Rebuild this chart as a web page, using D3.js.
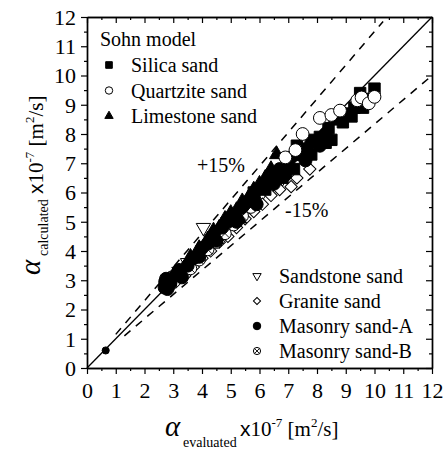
<!DOCTYPE html>
<html><head><meta charset="utf-8">
<script src="https://cdn.jsdelivr.net/npm/d3@7"></script>
<style>
body{margin:0;background:#fff}
</style></head>
<body><svg id="c" width="444" height="452"></svg>
<script>
const xTicks=[0,1,2,3,4,5,6,7,8,9,10,11,12];
const yTicks=[0,1,2,3,4,5,6,7,8,9,10,11,12];
const silica=[[5.8,6.0],[6.2,6.1],[6.5,6.6],[6.8,6.5],[7.0,7.0],[7.2,6.8],[7.4,7.3],[7.6,7.5],[7.8,7.3],[7.9,7.8],[8.1,7.9],[8.3,7.7],[8.5,7.8],[8.4,8.2],[8.7,8.5],[8.9,8.4],[9.0,8.7],[9.2,8.6],[9.3,8.9],[9.5,9.4],[9.6,8.9],[9.8,9.2],[10.0,9.55],[7.3,7.6]];
const quartzite=[[6.9,7.2],[7.25,7.45],[7.5,8.0],[8.1,8.55],[8.5,8.65],[8.8,8.8],[9.4,9.15],[9.55,9.25],[9.8,9.05],[10.0,9.27]];
const limestone=[[3.6,3.8],[3.9,4.1],[4.2,4.4],[4.4,4.7],[4.6,4.8],[4.8,5.1],[5.0,5.3],[5.2,5.4],[5.4,5.7],[5.6,5.8],[5.8,6.1],[6.0,6.3],[6.2,6.5],[6.4,6.8],[6.6,7.3],[5.3,5.1],[4.5,4.4]];
const sandstone=[[3.2,3.3],[3.5,3.6],[3.8,3.7],[4.05,4.8],[4.3,4.4],[4.5,4.6],[4.7,4.6],[4.9,5.0],[5.1,5.2],[5.3,5.2],[5.5,5.4],[5.8,5.7],[6.1,6.0],[6.4,6.2],[6.8,6.5]];
const granite=[[3.1,2.95],[3.4,3.15],[3.7,3.45],[4.0,3.75],[4.3,4.0],[4.6,4.3],[4.9,4.5],[5.2,4.8],[5.5,5.1],[5.8,5.35],[6.1,5.6],[6.4,5.9],[6.7,6.1],[7.1,6.2],[7.3,6.5],[7.75,6.8]];
const masonryA=[[0.65,0.6],[2.7,2.75],[2.72,2.95],[2.75,3.05],[2.8,2.7],[2.9,2.9],[3.1,3.2],[3.2,3.35],[3.3,3.1],[3.5,3.5],[3.7,3.75],[3.9,3.8],[4.0,4.1],[4.2,4.25],[4.4,4.5],[4.5,4.35],[4.7,4.8],[4.9,5.0],[5.1,5.2],[5.2,5.0],[5.4,5.5],[5.6,5.7],[5.8,5.9],[5.9,5.6],[6.1,6.2],[6.3,6.4],[6.5,6.3],[6.7,6.8],[6.9,6.6],[7.1,7.2],[7.4,7.3],[7.6,7.1],[7.8,7.7],[8.1,7.6],[8.3,8.0]];
const masonryB=[[2.9,2.85],[3.3,3.2],[3.6,3.4],[3.9,3.7],[4.2,4.05],[4.5,4.3],[4.8,4.6],[5.1,4.9],[5.4,5.2],[5.7,5.5]];
const legendTop=["Silica sand","Quartzite sand","Limestone sand"];
const legendBottom=["Sandstone sand","Granite sand","Masonry sand-A","Masonry sand-B"];

const SERIF="'Liberation Serif','Times New Roman',Tinos,'DejaVu Serif',serif";
const svg=d3.select("#c");
const L=87,R=432,T=17,B=368;
const x=d3.scaleLinear().domain([0,12]).range([L,R]);
const y=d3.scaleLinear().domain([0,12]).range([B,T]);
const minor=d3.range(0.5,12,1);

const line=d3.line().x(d=>x(d[0])).y(d=>y(d[1]));
svg.append("path").attr("d",line([[0,0],[12,12]])).attr("stroke","#000").attr("stroke-width",1.3).attr("fill","none");
svg.append("path").attr("d",line([[1.0,1.15],[10.3,11.85]])).attr("stroke","#000").attr("stroke-width",1.5).attr("fill","none").attr("stroke-dasharray","8,7");
svg.append("path").attr("d",line([[1.3,1.1],[12,10.0]])).attr("stroke","#000").attr("stroke-width",1.5).attr("fill","none").attr("stroke-dasharray","8,7");

function marker(g,type,cx,cy,s){
  const sc=s||1;
  if(type==="square"){g.append("path").attr("d",d3.symbol(d3.symbolSquare,130*sc*sc)()).attr("transform",`translate(${cx},${cy})`).attr("fill","#000").attr("stroke","#000");}
  else if(type==="circle"){g.append("circle").attr("cx",cx).attr("cy",cy).attr("r",6.4*sc).attr("fill","#fff").attr("stroke","#000").attr("stroke-width",1);}
  else if(type==="fcircle"){g.append("circle").attr("cx",cx).attr("cy",cy).attr("r",6.5*sc).attr("fill","#000").attr("stroke","#000");}
  else if(type==="triangle"){g.append("path").attr("d",d3.symbol(d3.symbolTriangle,90*sc*sc)()).attr("transform",`translate(${cx},${cy})`).attr("fill","#000").attr("stroke","#000");}
  else if(type==="dtriangle"){g.append("path").attr("d",d3.symbol(d3.symbolTriangle,90*sc*sc)()).attr("transform",`translate(${cx},${cy}) rotate(180)`).attr("fill","#fff").attr("stroke","#000");}
  else if(type==="diamond"){g.append("path").attr("d",d3.symbol(d3.symbolSquare,76*sc*sc)()).attr("transform",`translate(${cx},${cy}) rotate(45)`).attr("fill","#fff").attr("stroke","#000");}
  else if(type==="xcircle"){const r=6.2*sc;g.append("circle").attr("cx",cx).attr("cy",cy).attr("r",r).attr("fill","#fff").attr("stroke","#000");
    const k=r*0.7;g.append("path").attr("d",`M${cx-k},${cy-k}L${cx+k},${cy+k}M${cx-k},${cy+k}L${cx+k},${cy-k}`).attr("stroke","#000").attr("stroke-width",0.9);}
}
const series=[[sandstone,"dtriangle"],[granite,"diamond"],[masonryB,"xcircle"],[masonryA,"fcircle"],[limestone,"triangle"],[silica,"square"],[quartzite,"circle"]];
const gm=svg.append("g");
series.forEach(([data,t])=>data.forEach(d=>marker(gm,t,x(d[0]),y(d[1]),(d[0]<1?0.55:1))));

svg.append("g").attr("transform",`translate(0,${B})`).call(d3.axisBottom(x).tickValues(xTicks).tickSize(6).tickSizeOuter(0).tickPadding(8));
svg.append("g").attr("transform",`translate(0,${B})`).call(d3.axisBottom(x).tickValues(minor).tickSize(3).tickSizeOuter(0).tickFormat(""));
const gL=svg.append("g").attr("transform",`translate(${L},0)`).call(d3.axisLeft(y).tickValues(yTicks).tickSize(6).tickSizeOuter(0).tickPadding(5));
svg.append("g").attr("transform",`translate(${L},0)`).call(d3.axisLeft(y).tickValues(minor).tickSize(3).tickSizeOuter(0).tickFormat(""));
svg.append("g").attr("transform",`translate(0,${T})`).call(d3.axisTop(x).tickValues(xTicks).tickSize(-6).tickSizeOuter(0).tickFormat(""));
svg.append("g").attr("transform",`translate(0,${T})`).call(d3.axisTop(x).tickValues(minor).tickSize(-3).tickSizeOuter(0).tickFormat(""));
svg.append("g").attr("transform",`translate(${R},0)`).call(d3.axisRight(y).tickValues(yTicks).tickSize(-6).tickSizeOuter(0).tickFormat(""));
svg.append("g").attr("transform",`translate(${R},0)`).call(d3.axisRight(y).tickValues(minor).tickSize(-3).tickSizeOuter(0).tickFormat(""));
svg.selectAll("g").attr("font-family",SERIF);
svg.selectAll(".domain").attr("stroke-width",1.4);
svg.selectAll(".tick line").attr("stroke-width",1.2);
svg.selectAll(".tick text").attr("font-size",22).attr("font-family",SERIF);
gL.selectAll(".tick text").attr("dy","0.34em");

function txt(g,xx,yy,size,s){return g.append("text").attr("x",xx).attr("y",yy).attr("font-family",SERIF).attr("font-size",size).attr("fill","#000").text(s);}
txt(svg,197,172,20,"+15%");
txt(svg,285,217,20,"-15%");
txt(svg,100,46,20,"Sohn model");
const topTypes=["square","circle","triangle"];
legendTop.forEach((t,i)=>{const cy=65+i*25.5;marker(svg,topTypes[i],109,cy,0.58);txt(svg,131,cy+7,20,t);});
const botTypes=["dtriangle","diamond","fcircle","xcircle"];
legendBottom.forEach((t,i)=>{const cy=276+i*25;marker(svg,botTypes[i],257,cy,0.58);txt(svg,279,cy+7,20,t);});

function unit(t){
  t.append("tspan").attr("font-family","'Liberation Sans',Arial,sans-serif").attr("font-size",21).text("x");
  t.append("tspan").attr("font-size",21).text("10");
  t.append("tspan").attr("font-size",13).attr("dy",-9).text("-7");
  t.append("tspan").attr("font-size",21).attr("dy",9).text(" [m");
  t.append("tspan").attr("font-size",13).attr("dy",-9).text("2");
  t.append("tspan").attr("font-size",21).attr("dy",9).text("/s]");
}
txt(svg,165,436,29,"α").attr("font-style","italic");
txt(svg,183,447,14,"evaluated");
unit(txt(svg,240,436,21,""));
const gy=svg.append("g").attr("transform","rotate(-90)");
txt(gy,-275,40,29,"α").attr("font-style","italic");
txt(gy,-256,48,14,"calculated");
unit(txt(gy,-194,43,21,""));
</script></body></html>
